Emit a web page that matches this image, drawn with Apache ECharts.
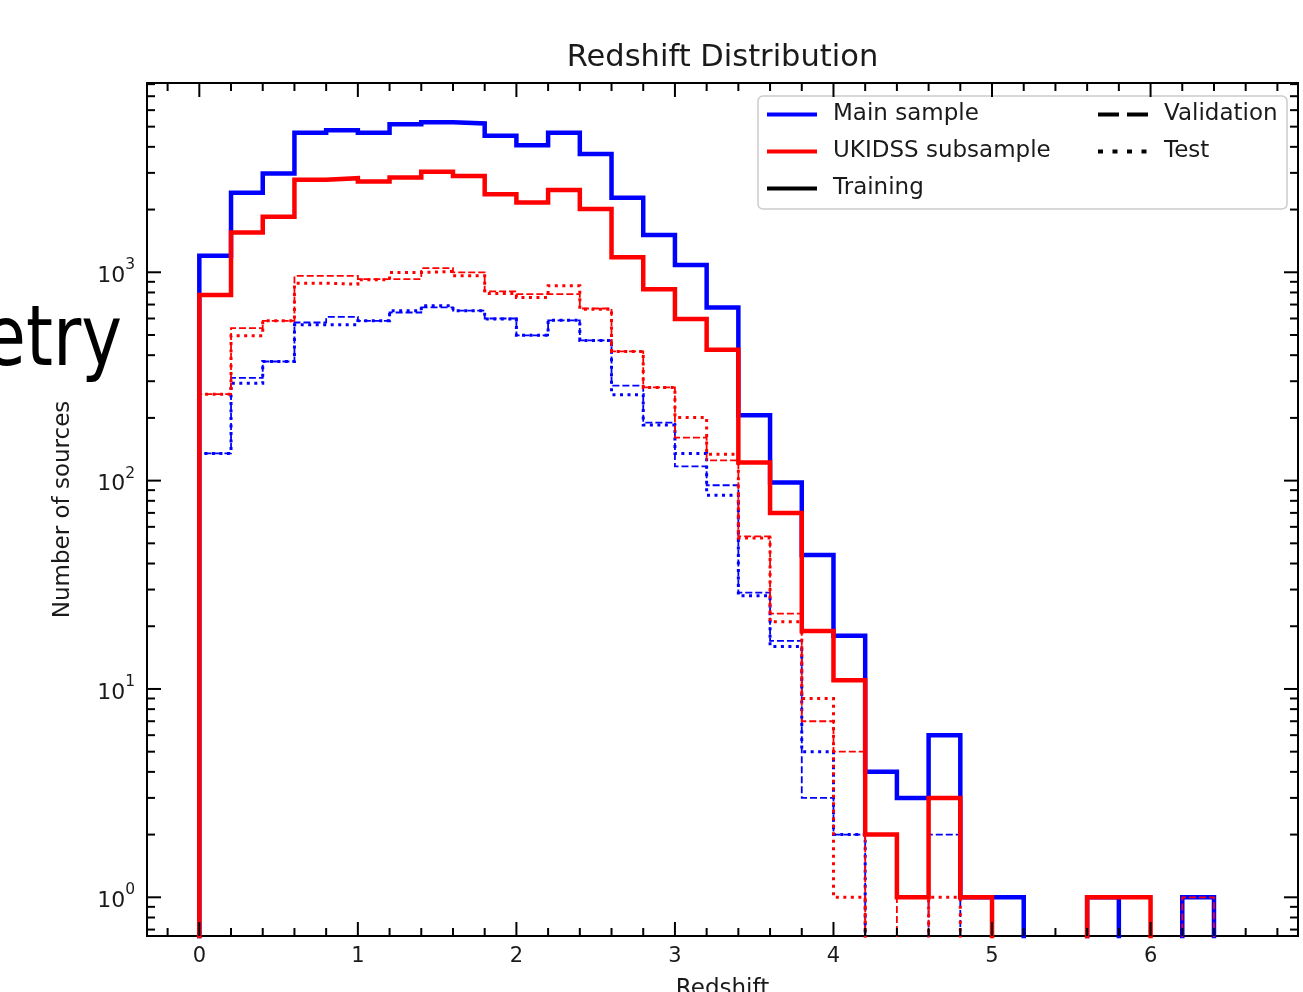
<!DOCTYPE html>
<html>
<head>
<meta charset="utf-8">
<title>Redshift Distribution</title>
<script src="https://cdn.jsdelivr.net/npm/echarts@6/dist/echarts.min.js"></script>
<style>
  html, body { margin: 0; padding: 0; background: #ffffff; }
  #chart { width: 1303px; height: 992px; }
</style>
</head>
<body>
<div id="chart"></div>
<script>
// Histogram bin edges (redshift), 0.2 wide
const binEdges = [0, 0.2, 0.4, 0.6, 0.8, 1.0, 1.2, 1.4, 1.6, 1.8, 2.0, 2.2, 2.4, 2.6, 2.8, 3.0,
  3.2, 3.4, 3.6, 3.8, 4.0, 4.2, 4.4, 4.6, 4.8, 5.0, 5.2, 5.4, 5.6, 5.8, 6.0, 6.2, 6.4, 6.6];

// Counts per bin
const mainTraining = [1200, 2410, 2980, 4680, 4800, 4680, 5130, 5250, 5180, 4520, 4070, 4680, 3700,
  2280, 1510, 1085, 678, 206, 98, 44, 18, 4, 3, 6, 1, 1, 0, 0, 1, 0, 0, 1, 0];
const mainValidation = [135, 311, 373, 574, 611, 585, 641, 678, 654, 600, 498, 588, 471,
  286, 190, 117, 95, 29, 17, 3, 2, 0, 0, 2, 0, 0, 0, 0, 0, 0, 0, 0, 0];
const mainTest = [135, 293, 373, 560, 560, 585, 654, 691, 654, 596, 498, 588, 471,
  258, 185, 135, 85, 28, 16, 5, 2, 0, 0, 0, 0, 0, 0, 0, 0, 0, 0, 0, 0];
const ukidssTraining = [777, 1550, 1845, 2780, 2830, 2730, 2850, 3040, 2900, 2370, 2160, 2480, 2010,
  1180, 830, 596, 425, 122, 70, 19, 11, 2, 1, 3, 1, 0, 0, 0, 1, 1, 0, 0, 0];
const ukidssValidation = [260, 540, 585, 962, 962, 927, 927, 1047, 1000, 810, 785, 785, 670,
  417, 280, 161, 125, 54, 23, 7, 5, 0, 1, 0, 0, 0, 0, 0, 0, 0, 0, 1, 0];
const ukidssTest = [260, 496, 585, 886, 877, 920, 998, 1009, 962, 790, 757, 861, 665,
  417, 280, 201, 134, 53, 21, 9, 1, 0, 0, 1, 0, 0, 0, 0, 0, 0, 0, 0, 0];

// Axis tick positions
const xMajorTicks = [0, 1, 2, 3, 4, 5, 6];
const yMajorTicks = [1, 10, 100, 1000];

const FONT = 'DejaVu Sans';
const TEXT = '#1a1a1a';
const BLUE = '#0000ff';
const RED = '#ff0000';

// Empty bins sit far below the log axis floor and are clipped by the grid
const EMPTY = 0.05;

function stepOutline(counts) {
  const pts = [[binEdges[0], EMPTY]];
  for (let i = 0; i < counts.length; i++) {
    const v = counts[i] > 0 ? counts[i] : EMPTY;
    pts.push([binEdges[i], v], [binEdges[i + 1], v]);
  }
  pts.push([binEdges[binEdges.length - 1], EMPTY]);
  return pts;
}

// Minor tick positions: every 0.2 in x, 2..9 x 10^k in y
const xMinorTicks = [];
for (let k = -1; k <= 34; k++) {
  const v = Math.round(k * 2) / 10;
  if (k % 5 !== 0) xMinorTicks.push(v);
}
const yMinorTicks = [];
for (let e = -1; e <= 3; e++) {
  for (let m = 2; m <= 9; m++) yMinorTicks.push(m * Math.pow(10, e));
}

const X_MIN = -0.33, X_MAX = 6.93;
const Y_MIN = 0.652, Y_MAX = 8100;

function histSeries(name, counts, color, kind) {
  const styles = {
    train: { width: 4.5, type: 'solid' },
    val: { width: 1.8, type: [7, 3] },
    test: { width: 3, type: [3, 4.5] }
  };
  return {
    name: name,
    type: 'line',
    data: stepOutline(counts),
    symbol: 'none',
    showSymbol: false,
    clip: true,
    silent: true,
    animation: false,
    lineStyle: { color: color, width: styles[kind].width, type: styles[kind].type, join: 'miter', cap: 'butt' },
    z: 2
  };
}

function legendProxy(name, color, type) {
  return {
    name: name,
    type: 'line',
    data: [],
    symbol: 'none',
    color: color,
    itemStyle: { color: color, opacity: 0 },
    lineStyle: { color: color, width: 4, type: type }
  };
}

// Inward ticks on all four sides
const tickSeries = {
  type: 'custom',
  silent: true,
  animation: false,
  clip: false,
  z: 5,
  data: [[0, 1]],
  renderItem: function (params, api) {
    const cs = params.coordSys;
    const top = cs.y, bottom = cs.y + cs.height, left = cs.x, right = cs.x + cs.width;
    const children = [];
    const stroke = { stroke: '#000', lineWidth: 2 };
    function xt(v, len) {
      const x = api.coord([v, 1])[0];
      if (x <= left + 1 || x >= right - 1) return;
      children.push({ type: 'line', shape: { x1: x, y1: bottom, x2: x, y2: bottom - len }, style: stroke });
      children.push({ type: 'line', shape: { x1: x, y1: top, x2: x, y2: top + len }, style: stroke });
    }
    function yt(v, len) {
      const y = api.coord([0, v])[1];
      if (y <= top + 1 || y >= bottom - 1) return;
      children.push({ type: 'line', shape: { x1: left, y1: y, x2: left + len, y2: y }, style: stroke });
      children.push({ type: 'line', shape: { x1: right, y1: y, x2: right - len, y2: y }, style: stroke });
    }
    xMajorTicks.forEach(v => xt(v, 14));
    xMinorTicks.forEach(v => xt(v, 8));
    yMajorTicks.forEach(v => yt(v, 14));
    yMinorTicks.forEach(v => yt(v, 8));
    return { type: 'group', children: children };
  }
};

const legendCommon = {
  orient: 'vertical',
  top: 103, padding: 0,
  itemWidth: 50, itemHeight: 24, itemGap: 14,
  selectedMode: false,
  itemStyle: { opacity: 0 },
  lineStyle: { width: 4 },
  textStyle: { fontFamily: FONT, fontSize: 23, color: TEXT, padding: [0, 0, 0, 11] }
};

const chart = echarts.init(document.getElementById('chart'), null, { renderer: 'canvas' });

chart.setOption({
  backgroundColor: '#ffffff',
  animation: false,
  textStyle: { fontFamily: FONT },
  title: {
    text: 'Redshift Distribution',
    left: 722.5,
    top: 43,
    padding: 0,
    textAlign: 'center',
    textStyle: { fontFamily: FONT, fontSize: 30.5, fontWeight: 'normal', color: TEXT }
  },
  grid: {
    left: 147, right: 5, top: 83, bottom: 56,
    outerBoundsMode: 'none',
    containLabel: false,
    show: true, borderColor: '#000', borderWidth: 2, backgroundColor: '#ffffff'
  },
  xAxis: {
    type: 'value',
    min: X_MIN, max: X_MAX,
    splitNumber: 7,
    name: 'Redshift',
    nameLocation: 'middle',
    nameGap: 42,
    nameTextStyle: { fontFamily: FONT, fontSize: 23, color: TEXT },
    axisLine: { show: false },
    axisTick: { show: false },
    splitLine: { show: false },
    axisLabel: {
      fontFamily: FONT, fontSize: 21, color: TEXT, margin: 10,
      formatter: function (v) {
        return Math.abs(v - Math.round(v)) < 1e-9 ? String(Math.round(v)) : '';
      }
    }
  },
  yAxis: {
    type: 'log',
    logBase: 10,
    min: Y_MIN, max: Y_MAX,
    name: 'Number of sources',
    nameLocation: 'middle',
    nameGap: 72,
    nameTextStyle: { fontFamily: FONT, fontSize: 23, color: TEXT },
    axisLine: { show: false },
    axisTick: { show: false },
    splitLine: { show: false },
    axisLabel: {
      margin: 12,
      formatter: function (v) {
        const e = Math.log10(v);
        if (Math.abs(e - Math.round(e)) > 1e-6) return '';
        return '{b|10}{s|' + Math.round(e) + '}';
      },
      rich: {
        b: { fontFamily: FONT, fontSize: 22, color: TEXT, lineHeight: 30, verticalAlign: 'bottom' },
        s: { fontFamily: FONT, fontSize: 15.5, color: TEXT, verticalAlign: 'top' }
      }
    }
  },
  legend: [
    Object.assign({}, legendCommon, { left: 765, data: ['Main sample', 'UKIDSS subsample', 'Training'] }),
    Object.assign({}, legendCommon, { left: 1096, data: ['Validation', 'Test'] })
  ],
  graphic: [
    {
      type: 'rect',
      z: 3,
      silent: true,
      shape: { x: 758, y: 96, width: 529, height: 113, r: 5 },
      style: { fill: 'rgba(255,255,255,0.85)', stroke: '#cccccc', lineWidth: 1.5 }
    },
    {
      type: 'text',
      x: 122, y: 343,
      scaleX: 0.82,
      silent: true,
      style: { text: 'etry', fontFamily: FONT, fontSize: 84, fill: '#000', align: 'right', verticalAlign: 'middle' }
    }
  ],
  series: [
    histSeries('Main sample training', mainTraining, BLUE, 'train'),
    histSeries('Main sample validation', mainValidation, BLUE, 'val'),
    histSeries('Main sample test', mainTest, BLUE, 'test'),
    histSeries('UKIDSS subsample training', ukidssTraining, RED, 'train'),
    histSeries('UKIDSS subsample validation', ukidssValidation, RED, 'val'),
    histSeries('UKIDSS subsample test', ukidssTest, RED, 'test'),
    legendProxy('Main sample', BLUE, 'solid'),
    legendProxy('UKIDSS subsample', RED, 'solid'),
    legendProxy('Training', '#000', 'solid'),
    legendProxy('Validation', '#000', [21, 8]),
    legendProxy('Test', '#000', [5, 9.5]),
    tickSeries
  ]
});
</script>
</body>
</html>
